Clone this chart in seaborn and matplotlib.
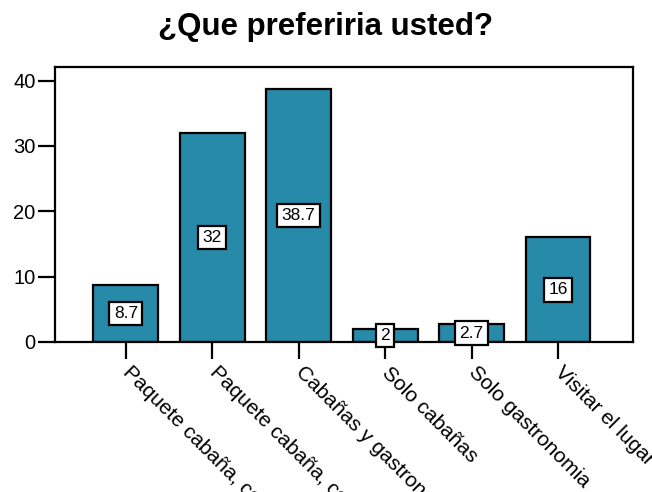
import matplotlib
matplotlib.use("Agg")
import matplotlib.pyplot as plt
import seaborn as sns
import pandas as pd

# Data
categorias = ["Paquete cabaña, comida y paseos",
              "Paquete cabaña, comida",
              "Cabañas y gastronomia",
              "Solo cabañas",
              "Solo gastronomia",
              "Visitar el lugar"]
porcentajes = [8.7, 32, 38.7, 2, 2.7, 16]
etiquetas = ["8.7", "32", "38.7", "2", "2.7", "16"]

df = pd.DataFrame({"cat": categorias, "val": porcentajes})

sns.set_style("white")
plt.rcParams["font.family"] = ["Liberation Sans", "DejaVu Sans"]
plt.rcParams["text.color"] = "black"

fig = plt.figure(figsize=(6.52, 4.92), dpi=100)
ax = fig.add_axes([0.0844, 0.305, 0.8866, 0.559])

sns.barplot(data=df, x="cat", y="val", color="#268aa8", saturation=1,
            edgecolor="black", linewidth=1.6, width=0.75, ax=ax)

for i, (v, t) in enumerate(zip(porcentajes, etiquetas)):
    ax.text(i, v / 2, t, ha="center", va="center", fontsize=12.5, color="black",
            bbox=dict(boxstyle="square,pad=0.25", fc="white", ec="black", lw=1.6))

ax.set_ylim(0, 42.1)
ax.set_xlim(-0.82, 5.87)
ax.set_yticks([0, 10, 20, 30, 40])
ax.set_xlabel("")
ax.set_ylabel("")
ax.tick_params(axis="both", direction="out", length=12, width=1.6,
               colors="black", labelsize=14.5, bottom=True, left=True)
ax.tick_params(axis="y", pad=2)
ax.tick_params(axis="x", pad=8)
for lbl in ax.get_xticklabels():
    lbl.set_fontsize(15)
    lbl.set_rotation(-45)
    lbl.set_ha("left")
    lbl.set_va("center")
    lbl.set_rotation_mode("anchor")
for s in ax.spines.values():
    s.set_visible(True)
    s.set_linewidth(1.6)
    s.set_color("black")

fig.suptitle("¿Que preferiria usted?", fontsize=22.5, fontweight="bold",
             color="black", y=0.975)

fig.savefig("out.png", dpi=100)
